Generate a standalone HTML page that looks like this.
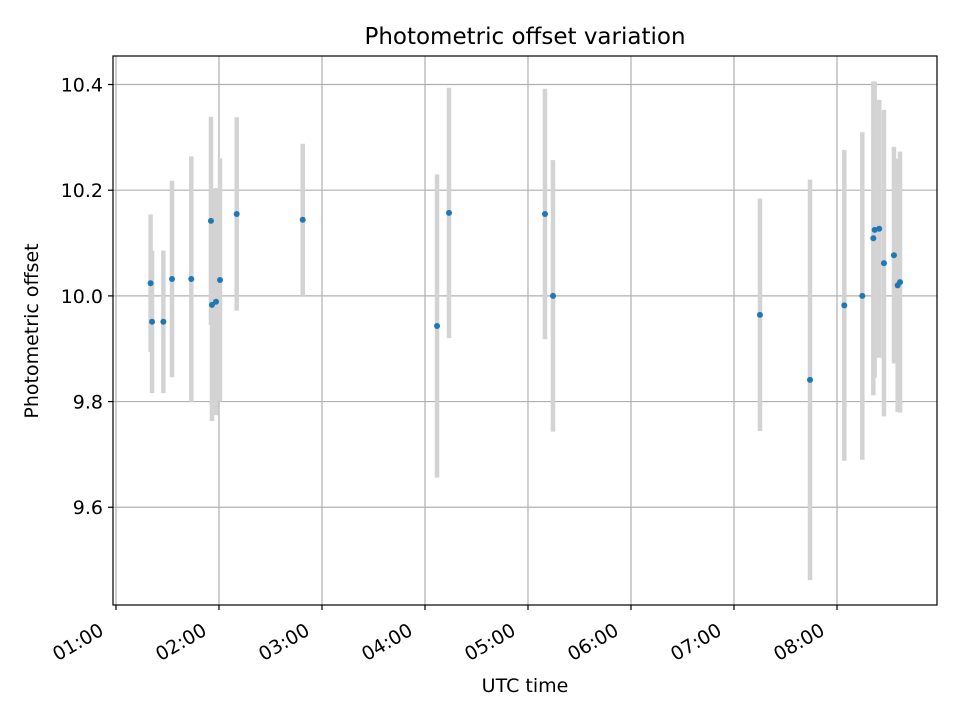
<!DOCTYPE html>
<html><head><meta charset="utf-8"><style>
body{margin:0;background:#fff;font-family:"Liberation Sans","DejaVu Sans",sans-serif}
svg text{font-family:"DejaVu Sans","Liberation Sans",sans-serif;fill:#000}
</style></head><body>
<svg id="chart" width="960" height="720" xmlns="http://www.w3.org/2000/svg">
<rect width="960" height="720" fill="#fff"/>
<g id="grid"></g><g id="bars"></g><g id="pts"></g><g id="axes"></g>
<text x="525" y="44" text-anchor="middle" font-size="23">Photometric offset variation</text>
<text x="525" y="692" text-anchor="middle" font-size="19">UTC time</text>
<text transform="translate(38,331) rotate(-90)" text-anchor="middle" font-size="19">Photometric offset</text>
</svg>
<script>
// times in decimal hours UTC
const times=[1.336,1.350,1.460,1.544,1.731,1.922,1.932,1.971,2.010,2.172,2.813,4.117,4.233,5.165,5.243,7.252,7.738,8.071,8.246,8.353,8.366,8.410,8.456,8.553,8.589,8.612];
const values=[10.024,9.951,9.951,10.032,10.032,10.142,9.983,9.989,10.030,10.155,10.144,9.943,10.157,10.155,10.000,9.964,9.841,9.982,10.000,10.109,10.125,10.127,10.062,10.077,10.020,10.026];
const errors=[0.130,0.135,0.135,0.186,0.232,0.197,0.220,0.215,0.230,0.183,0.144,0.287,0.237,0.237,0.257,0.220,0.379,0.294,0.310,0.297,0.280,0.244,0.290,0.205,0.240,0.247];
const yTicks=[9.6,9.8,10.0,10.2,10.4];
const xTicks=[1,2,3,4,5,6,7,8];
const xTickLabels=["01:00","02:00","03:00","04:00","05:00","06:00","07:00","08:00"];
const L=113,R=937,T=56,B=605;
const x0=0.971,x1=8.971,y0=9.415,y1=10.454;
const X=v=>L+(v-x0)/(x1-x0)*(R-L);
const Y=v=>B-(v-y0)/(y1-y0)*(B-T);
const NS="http://www.w3.org/2000/svg";
function mk(tag,parent,attrs){const e=document.createElementNS(NS,tag);for(const k in attrs)e.setAttribute(k,attrs[k]);document.getElementById(parent).appendChild(e);return e;}
yTicks.forEach((t,i)=>{
 const g=mk('line','grid',{x1:L,x2:R,y1:Y(t),y2:Y(t),stroke:'#b0b0b0','stroke-width':1.2});
 
 
 mk('line','axes',{x1:L-5,x2:L,y1:Y(t),y2:Y(t),stroke:'#000','stroke-width':1.2});
 const tx=mk('text','axes',{x:L-10,y:Y(t)+7,'text-anchor':'end','font-size':19});
 tx.textContent=t.toFixed(1);
 
 
});
xTicks.forEach((t,i)=>{
 const g=mk('line','grid',{x1:X(t),x2:X(t),y1:T,y2:B,stroke:'#b0b0b0','stroke-width':1.2});
 
 
 mk('line','axes',{x1:X(t),x2:X(t),y1:B,y2:B+5,stroke:'#000','stroke-width':1.2});
 const tx=mk('text','axes',{x:0,y:0,'text-anchor':'end','font-size':19,transform:`translate(${X(t)-11},${B+29}) rotate(-30)`});
 tx.textContent=xTickLabels[i];
 
 
});
times.forEach((t,i)=>{
 const b=mk('line','bars',{x1:X(t),x2:X(t),y1:Y(values[i]+errors[i]),y2:Y(values[i]-errors[i]),stroke:'#d3d3d3','stroke-width':4.5});
 
 
 const c=mk('circle','pts',{cx:X(t),cy:Y(values[i]),r:3,fill:'#1f77b4'});
 
 
});
const f=mk('rect','axes',{x:L,y:T,width:R-L,height:B-T,fill:'none',stroke:'#000','stroke-width':1.2});


</script>
</body></html>
